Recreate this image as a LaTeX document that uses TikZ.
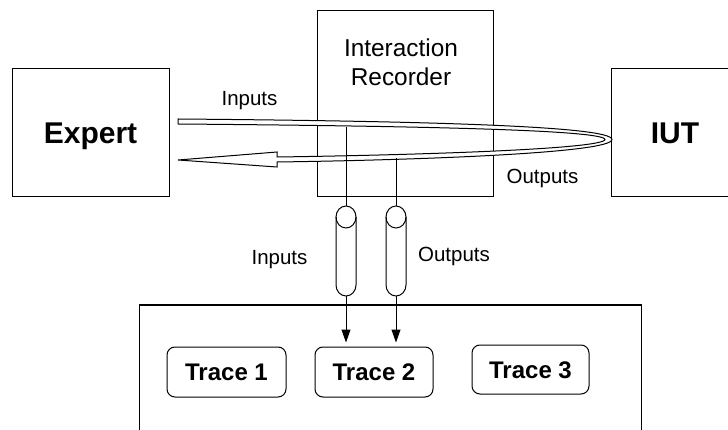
\documentclass[tikz,border=0pt]{standalone}
\usepackage{fontspec}
\setmainfont{Liberation Sans}
\usetikzlibrary{arrows.meta}
\begin{document}
\begin{tikzpicture}[x=1pt,y=-1pt,line width=1pt,
  box/.style={draw,inner sep=0pt,line width=1pt},
  bigbox/.style={box,font=\fontsize{30}{36}\selectfont\bfseries,text height=21.5pt,text depth=0pt},
  tracebox/.style={box,rounded corners=8pt,font=\fontsize{24}{29}\selectfont\bfseries,text height=17pt,text depth=0pt},
  lbl/.style={font=\fontsize{20.5}{24}\selectfont,anchor=base,inner sep=0pt},
  tip/.style={-{Triangle[length=13pt,width=9pt]},shorten >=4pt}]
\useasboundingbox (0,0) rectangle (728,430);
% main boxes
\node[bigbox,minimum width=157pt,minimum height=128pt] (expert) at (90.5,133) {Expert};
\node[box,minimum width=176pt,minimum height=186pt] (rec) at (405,104) {};
\node[font=\fontsize{24.4}{29}\selectfont,align=center,anchor=base,inner sep=0pt] (rectxt) at (401,86) {Interaction\\Recorder};
\node[bigbox,minimum width=128pt,minimum height=128pt] (iut) at (675,133) {IUT};
\node[box,minimum width=502pt,minimum height=150pt] (store) at (390,380) {};
\node[tracebox,minimum width=119pt,minimum height=50pt] (t1) at (226.5,372) {Trace 1};
\node[tracebox,minimum width=118pt,minimum height=50pt] (t2) at (374,372) {Trace 2};
\node[tracebox,minimum width=117pt,minimum height=49pt] (t3) at (530.5,369.5) {Trace 3};
% hollow loop arrow
\draw[fill=white,line join=miter] (178,119) .. controls (420,121) and (612,126) .. (612,139.5)
  .. controls (612,153) and (420,160) .. (277,162) -- (277,167) -- (178,160) -- (277,152) -- (277,157)
  .. controls (420,155) and (604,149) .. (605,139.5)
  .. controls (604,130) and (420,126) .. (178,124) -- cycle;
\node[lbl] (linA) at (249.5,106) {Inputs};
\node[lbl] (loutA) at (542.5,184) {Outputs};
% taps
\coordinate (in1) at (346,127);
\coordinate (out1) at (396,158);
\coordinate (c1top) at (346,206);
\coordinate (c1bot) at (346,296);
\coordinate (c2top) at (396,206);
\coordinate (c2bot) at (396,296);
% cylinders
\foreach \cx in {346,396}{
  \draw (\cx-10,217) -- (\cx-10,285) arc[start angle=180,end angle=360,x radius=10pt,y radius=11pt] -- (\cx+10,217);
  \draw (\cx,217) ellipse [x radius=10pt,y radius=11pt];
}
\draw (in1) -- (c1top);
\draw (out1) -- (c2top);
\draw[tip] (c1bot) -- (c1bot |- t2.north);
\draw[tip] (c2bot) -- (c2bot |- t2.north);
\node[lbl] (linB) at (279.5,265) {Inputs};
\node[lbl] (loutB) at (454,262) {Outputs};
\end{tikzpicture}
\end{document}
